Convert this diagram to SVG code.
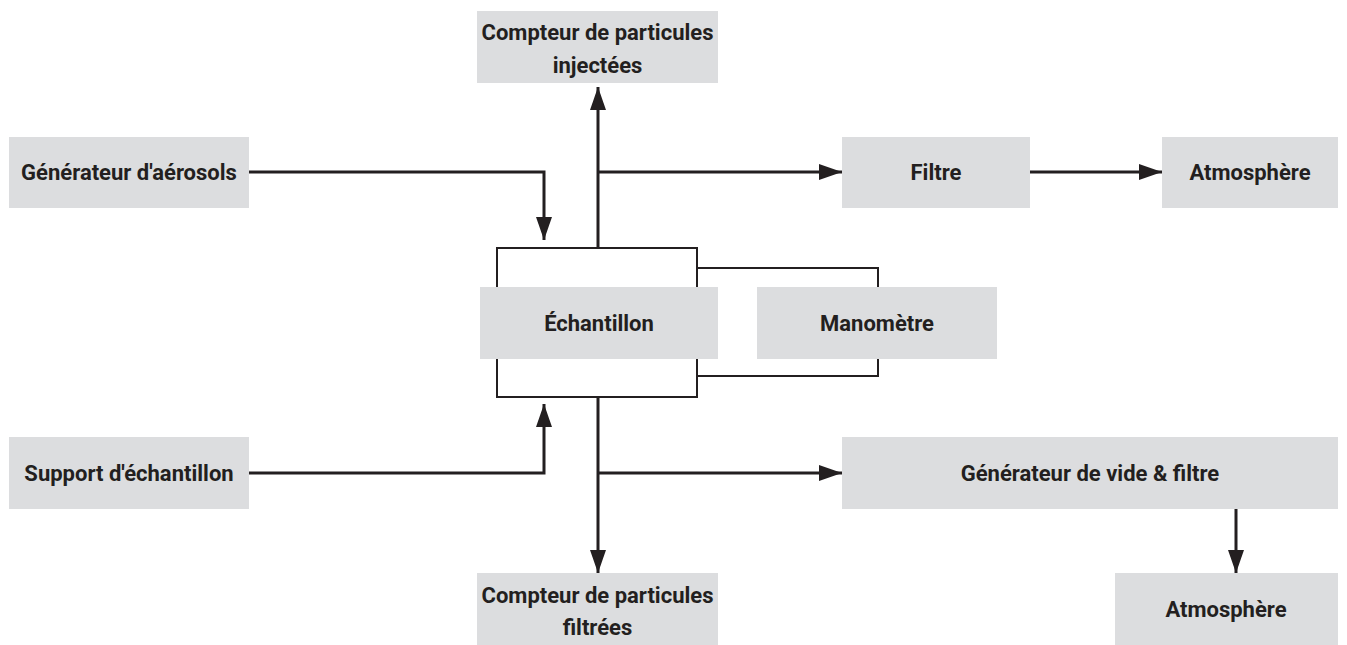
<svg xmlns="http://www.w3.org/2000/svg" width="1347" height="645" viewBox="0 0 1347 645">
<style>
.box{fill:#dcdddf}
.t{font-family:Roboto,"Liberation Sans",sans-serif;font-weight:bold;font-size:22px;fill:#231f20;text-anchor:middle;dominant-baseline:central}
.ln{fill:none;stroke:#231f20;stroke-width:3}
.thin{fill:none;stroke:#231f20;stroke-width:2}
</style>
<defs>
<marker id="ah" markerUnits="userSpaceOnUse" markerWidth="24" markerHeight="18" refX="23" refY="8" orient="auto">
<path d="M0,0 L23,8 L0,16 Z" fill="#231f20"/>
</marker>
</defs>
<rect width="1347" height="645" fill="#fff"/>
<g id="connectors">
<path class="thin" d="M497,248 H697 V397 H497 Z"/>
<path class="thin" d="M697,268 H878 V287 M878,359 V376 H697"/>
<path class="ln" d="M598,248 V87" marker-end="url(#ah)"/>
<path class="ln" d="M598,172 H842" marker-end="url(#ah)"/>
<path class="ln" d="M1030,172 H1162" marker-end="url(#ah)"/>
<path class="ln" d="M249,172 H544 V240" marker-end="url(#ah)"/>
<path class="ln" d="M249,473 H544 V404" marker-end="url(#ah)"/>
<path class="ln" d="M598,397 V573" marker-end="url(#ah)"/>
<path class="ln" d="M598,473 H842" marker-end="url(#ah)"/>
<path class="ln" d="M1236,509 V573" marker-end="url(#ah)"/>
</g>
<g id="compteur-injectees"><rect class="box" x="477" y="11" width="241" height="72"/><text class="t" x="597.5" y="32">Compteur de particules</text><text class="t" x="597.5" y="65">injectées</text></g>
<g id="generateur-aerosols"><rect class="box" x="9" y="137" width="240" height="71"/><text class="t" x="129" y="172">Générateur d'aérosols</text></g>
<g id="filtre"><rect class="box" x="842" y="137" width="188" height="71"/><text class="t" x="936" y="172">Filtre</text></g>
<g id="atmosphere-1"><rect class="box" x="1162" y="137" width="176" height="71"/><text class="t" x="1250" y="172">Atmosphère</text></g>
<g id="echantillon"><rect class="box" x="480" y="287" width="238" height="72"/><text class="t" x="599" y="323">Échantillon</text></g>
<g id="manometre"><rect class="box" x="757" y="287" width="240" height="72"/><text class="t" x="877" y="323">Manomètre</text></g>
<g id="support"><rect class="box" x="9" y="437" width="240" height="72"/><text class="t" x="129" y="473">Support d'échantillon</text></g>
<g id="generateur-vide"><rect class="box" x="842" y="437" width="496" height="72"/><text class="t" x="1090" y="473">Générateur de vide &amp; filtre</text></g>
<g id="compteur-filtrees"><rect class="box" x="477" y="573" width="241" height="72"/><text class="t" x="597.5" y="595">Compteur de particules</text><text class="t" x="597.5" y="627">filtrées</text></g>
<g id="atmosphere-2"><rect class="box" x="1115" y="573" width="223" height="72"/><text class="t" x="1226" y="609">Atmosphère</text></g>
</svg>
